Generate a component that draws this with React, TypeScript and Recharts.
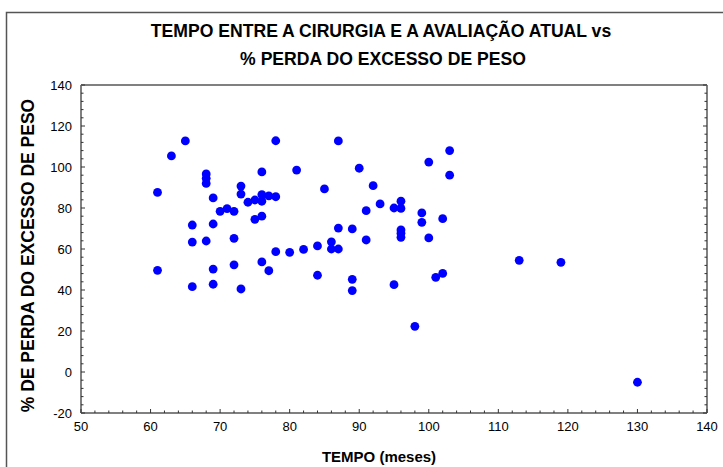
import React from 'react';
import { ScatterChart, Scatter, XAxis, YAxis, Customized } from 'recharts';

const tempo = [
  61, 61, 63, 65, 66, 66, 66, 68, 68, 68, 68, 69, 69, 69, 69, 70, 71, 72, 72, 72,
  73, 73, 73, 74, 75, 75, 76, 76, 76, 76, 76, 77, 77, 78, 78, 78, 80, 81, 82, 84,
  84, 85, 86, 86, 87, 87, 87, 89, 89, 89, 90, 91, 91, 92, 93, 95, 95, 96, 96, 96,
  96, 96, 98, 99, 99, 100, 100, 101, 102, 102, 103, 103, 113, 119, 130,
];
const perda = [
  87.6, 49.6, 105.4, 112.7, 71.7, 63.4, 41.6, 96.6, 94.5, 92.0, 63.9, 84.9, 72.2, 50.2, 42.8, 78.4, 79.7, 78.4, 65.2, 52.3,
  90.7, 86.8, 40.5, 82.8, 83.9, 74.5, 97.6, 86.5, 83.3, 76.0, 53.7, 85.9, 49.4, 112.8, 85.5, 58.7, 58.4, 98.5, 59.8, 61.5,
  47.2, 89.3, 63.5, 60.0, 112.7, 70.2, 60.0, 69.8, 45.2, 39.7, 99.4, 78.7, 64.4, 90.9, 82.0, 80.0, 42.6, 83.3, 79.8, 69.3,
  67.7, 65.7, 22.3, 77.6, 73.0, 102.4, 65.4, 46.2, 74.8, 48.1, 108.0, 96.0, 54.5, 53.5, -5.0,
];

const xTicks = [
  50, 52, 54, 56, 58, 60, 62, 64, 66, 68, 70, 72, 74, 76, 78, 80, 82, 84, 86, 88, 90,
  92, 94, 96, 98, 100, 102, 104, 106, 108, 110, 112, 114, 116, 118, 120, 122, 124, 126, 128, 130,
  132, 134, 136, 138, 140,
];
const yTicks = [
  -20, -16, -12, -8, -4, 0, 4, 8, 12, 16, 20, 24, 28, 32, 36, 40, 44, 48, 52, 56, 60,
  64, 68, 72, 76, 80, 84, 88, 92, 96, 100, 104, 108, 112, 116, 120, 124, 128, 132, 136, 140,
];
const xMajorStep = 10;
const yMajorStep = 20;

const titleLine1 = 'TEMPO ENTRE A CIRURGIA E A AVALIAÇÃO ATUAL vs';
const titleLine2 = '% PERDA DO EXCESSO DE PESO';
const xLabel = 'TEMPO (meses)';
const yLabel = '% DE PERDA DO EXCESSO DE PESO';

const data = tempo.map((t, i) => ({ x: t, y: perda[i] }));

const FONT = '"Liberation Sans", Arial, sans-serif';
const AXIS_COLOR = '#808080';
const TICK_COLOR = '#333333';

const isMajor = (v: number, step: number) => Math.abs(v % step) < 1e-9;

const BottomTick = (props: any) => {
  const { x, y, payload } = props;
  const major = isMajor(payload.value, xMajorStep);
  return (
    <g>
      <line x1={x} x2={x} y1={y} y2={y - (major ? 4 : 2.5)} stroke={TICK_COLOR} strokeWidth={1} />
      {major && (
        <text x={x} y={y + 18} textAnchor="middle" fontSize={13} fill="#000" fontFamily={FONT}>
          {payload.value}
        </text>
      )}
    </g>
  );
};

const TopTick = (props: any) => {
  const { x, y, payload } = props;
  const major = isMajor(payload.value, xMajorStep);
  return <line x1={x} x2={x} y1={y} y2={y + (major ? 4 : 2.5)} stroke={TICK_COLOR} strokeWidth={1} />;
};

const LeftTick = (props: any) => {
  const { x, y, payload } = props;
  const major = isMajor(payload.value, yMajorStep);
  return (
    <g>
      <line x1={x} x2={x + (major ? 4 : 2.5)} y1={y} y2={y} stroke={TICK_COLOR} strokeWidth={1} />
      {major && (
        <text x={x - 9} y={y + 4.5} textAnchor="end" fontSize={13} fill="#000" fontFamily={FONT}>
          {payload.value}
        </text>
      )}
    </g>
  );
};

const RightTick = (props: any) => {
  const { x, y, payload } = props;
  const major = isMajor(payload.value, yMajorStep);
  return <line x1={x} x2={x - (major ? 4 : 2.5)} y1={y} y2={y} stroke={TICK_COLOR} strokeWidth={1} />;
};

const Dot = (props: any) => {
  const { cx, cy } = props;
  return <circle cx={cx} cy={cy} r={4.4} fill="#0000FF" />;
};

const Decorations = () => (
  <g fontFamily={FONT}>
    <rect x={6.5} y={12.5} width={800} height={500} fill="none" stroke="#555555" strokeWidth={1.5} />
    <text x={381} y={37.3} textAnchor="middle" fontSize={17.6} fontWeight="bold" fill="#000">
      {titleLine1}
    </text>
    <text x={383} y={65.3} textAnchor="middle" fontSize={17.6} fontWeight="bold" fill="#000">
      {titleLine2}
    </text>
    <text x={379} y={461.5} textAnchor="middle" fontSize={15} fontWeight="bold" fill="#000">
      {xLabel}
    </text>
    <text
      x={34}
      y={255.5}
      textAnchor="middle"
      fontSize={17.5}
      fontWeight="bold"
      fill="#000"
      transform="rotate(-90, 34, 255.5)"
    >
      {yLabel}
    </text>
  </g>
);

export default function App() {
  return (
    <div style={{ position: 'absolute', left: 0, top: 0, width: 723, height: 467, background: '#fff' }}>
      <ScatterChart
        width={723}
        height={467}
        margin={{ top: 84, right: 15, bottom: 53, left: 80 }}
        style={{ fontFamily: FONT }}
      >
        <Customized component={Decorations} />
        <XAxis
          xAxisId="b"
          dataKey="x"
          type="number"
          domain={[50, 140]}
          ticks={xTicks}
          interval={0}
          height={1}
          tickSize={0}
          tickMargin={0}
          tickLine={false}
          axisLine={{ stroke: AXIS_COLOR, strokeWidth: 2 }}
          tick={<BottomTick />}
          allowDataOverflow
        />
        <XAxis
          xAxisId="t"
          orientation="top"
          type="number"
          domain={[50, 140]}
          ticks={xTicks}
          interval={0}
          height={1}
          tickSize={0}
          tickMargin={0}
          tickLine={false}
          axisLine={{ stroke: AXIS_COLOR, strokeWidth: 2 }}
          tick={<TopTick />}
          allowDataOverflow
        />
        <YAxis
          yAxisId="l"
          dataKey="y"
          type="number"
          domain={[-20, 140]}
          ticks={yTicks}
          interval={0}
          width={1}
          tickSize={0}
          tickMargin={0}
          tickLine={false}
          axisLine={{ stroke: AXIS_COLOR, strokeWidth: 2 }}
          tick={<LeftTick />}
          allowDataOverflow
        />
        <YAxis
          yAxisId="r"
          orientation="right"
          type="number"
          domain={[-20, 140]}
          ticks={yTicks}
          interval={0}
          width={1}
          tickSize={0}
          tickMargin={0}
          tickLine={false}
          axisLine={{ stroke: AXIS_COLOR, strokeWidth: 2 }}
          tick={<RightTick />}
          allowDataOverflow
        />
        <Scatter
          xAxisId="b"
          yAxisId="l"
          data={data}
          fill="#0000FF"
          shape={<Dot />}
          isAnimationActive={false}
        />
      </ScatterChart>
    </div>
  );
}
